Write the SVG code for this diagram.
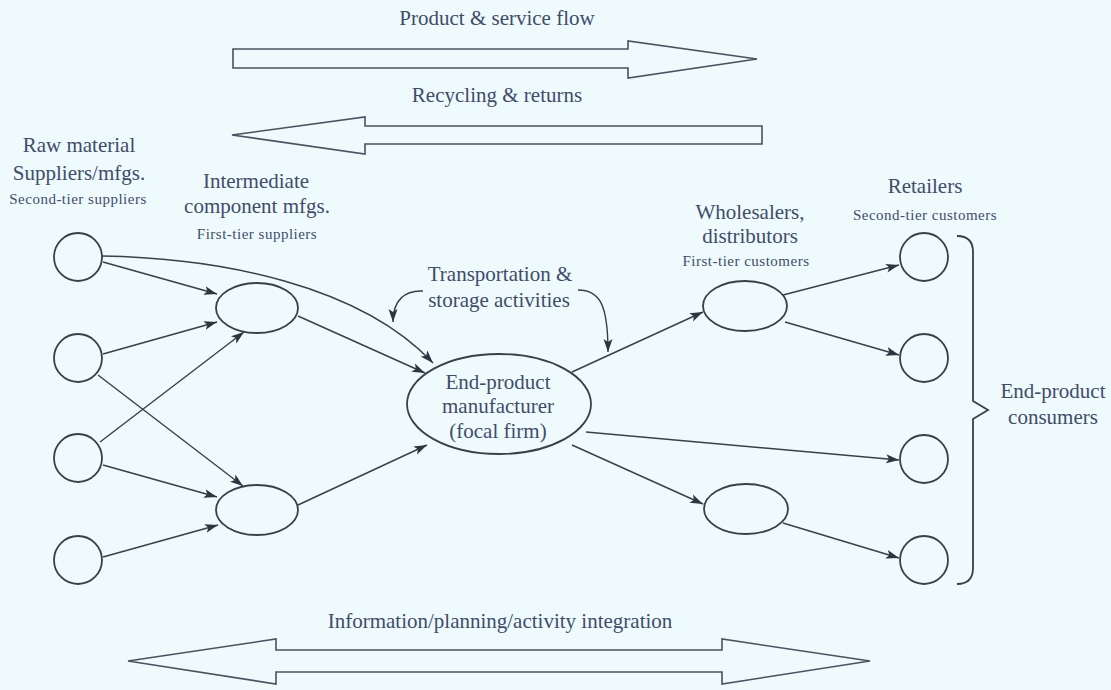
<svg xmlns="http://www.w3.org/2000/svg" width="1111" height="690" viewBox="0 0 1111 690">
<defs>
<marker id="ah" markerUnits="userSpaceOnUse" markerWidth="14" markerHeight="10" refX="13" refY="5" orient="auto">
<path d="M0,0.5 L13,5 L0,9.5 L3,5 z" fill="#2f3440"/>
</marker>
</defs>
<style>
.bg{fill:#eefafc}
.node{fill:none;stroke:#3a3f4a;stroke-width:1.8}
.edge{fill:none;stroke:#3a3f4a;stroke-width:1.4;marker-end:url(#ah)}
.big{fill:#eefafc;stroke:#4a5262;stroke-width:1.6;stroke-linejoin:miter}
.t{font-family:"Liberation Serif",serif;font-size:21px;fill:#414c6c;text-anchor:middle}
.s{font-family:"Liberation Serif",serif;font-size:15px;letter-spacing:0.5px;fill:#414c6c;text-anchor:middle}
</style>
<rect class="bg" x="0" y="0" width="1111" height="690"/>

<g id="flow-arrows">
<polygon class="big" points="233,49 628,49 628,41 757,59 628,78 628,68 233,68"/>
<text class="t" x="497" y="25">Product &amp; service flow</text>
<polygon class="big" points="762,126 365,126 365,117 232,135 365,154 365,144 762,144"/>
<text class="t" x="497" y="102">Recycling &amp; returns</text>
<polygon class="big" points="128,661 276,639 276,650 722,650 722,639 870,661 722,684 722,672 276,672 276,684"/>
<text class="t" x="500" y="628">Information/planning/activity integration</text>
</g>

<g id="labels">
<text class="t" x="79" y="152">Raw material</text>
<text class="t" x="79" y="180">Suppliers/mfgs.</text>
<text class="s" x="78" y="204">Second-tier suppliers</text>
<text class="t" x="256" y="188">Intermediate</text>
<text class="t" x="257" y="213">component mfgs.</text>
<text class="s" x="257" y="239">First-tier suppliers</text>
<text class="t" x="500" y="281">Transportation &amp;</text>
<text class="t" x="499" y="307">storage activities</text>
<text class="t" x="750" y="219">Wholesalers,</text>
<text class="t" x="750" y="243">distributors</text>
<text class="s" x="746" y="266">First-tier customers</text>
<text class="t" x="925" y="193">Retailers</text>
<text class="s" x="925" y="220">Second-tier customers</text>
</g>

<g id="supplier-1"><circle class="node" cx="78" cy="257" r="24"/></g>
<g id="supplier-2"><circle class="node" cx="78" cy="358" r="24"/></g>
<g id="supplier-3"><circle class="node" cx="78" cy="458" r="24"/></g>
<g id="supplier-4"><circle class="node" cx="78" cy="560" r="24"/></g>
<g id="intermediate-1"><ellipse class="node" cx="257" cy="308" rx="41" ry="25"/></g>
<g id="intermediate-2"><ellipse class="node" cx="257" cy="510" rx="41" ry="25"/></g>
<g id="focal-firm">
<ellipse class="node" cx="499" cy="404" rx="92" ry="50"/>
<text class="t" x="498" y="389">End-product</text>
<text class="t" x="498" y="413">manufacturer</text>
<text class="t" x="498" y="438">(focal firm)</text>
</g>
<g id="wholesaler-1"><ellipse class="node" cx="745" cy="306" rx="42" ry="25"/></g>
<g id="wholesaler-2"><ellipse class="node" cx="746" cy="509" rx="42" ry="25"/></g>
<g id="retailer-1"><circle class="node" cx="924" cy="257" r="24"/></g>
<g id="retailer-2"><circle class="node" cx="924" cy="358" r="24"/></g>
<g id="retailer-3"><circle class="node" cx="924" cy="459" r="24"/></g>
<g id="retailer-4"><circle class="node" cx="924" cy="560" r="24"/></g>
<g id="consumers">
<path class="node" d="M957,236 C968,236 973,242 973,252 L973,401 L988,410 L973,419 L973,568 C973,578 968,584 957,584"/>
<text class="t" x="1053" y="398">End-product</text>
<text class="t" x="1053" y="424">consumers</text>
</g>

<g id="connectors">
<line class="edge" x1="103" y1="262" x2="217" y2="294"/>
<line class="edge" x1="103" y1="354" x2="217" y2="322"/>
<line class="edge" x1="100" y1="442" x2="244" y2="332"/>
<line class="edge" x1="98" y1="375" x2="243" y2="486"/>
<line class="edge" x1="103" y1="465" x2="217" y2="497"/>
<line class="edge" x1="103" y1="557" x2="218" y2="525"/>
<path class="edge" d="M102,256 C220,258 360,285 433,363"/>
<line class="edge" x1="298" y1="316" x2="425" y2="373"/>
<line class="edge" x1="298" y1="505" x2="427" y2="445"/>
<line class="edge" x1="572" y1="372" x2="703" y2="312"/>
<line class="edge" x1="783" y1="295" x2="899" y2="265"/>
<line class="edge" x1="785" y1="322" x2="899" y2="355"/>
<line class="edge" x1="586" y1="432" x2="899" y2="460"/>
<line class="edge" x1="572" y1="445" x2="703" y2="504"/>
<line class="edge" x1="783" y1="523" x2="899" y2="558"/>
<path class="edge" d="M423,291 C405,290 393,300 393,322"/>
<path class="edge" d="M578,290 C600,290 608,305 608,352"/>
</g>
</svg>
